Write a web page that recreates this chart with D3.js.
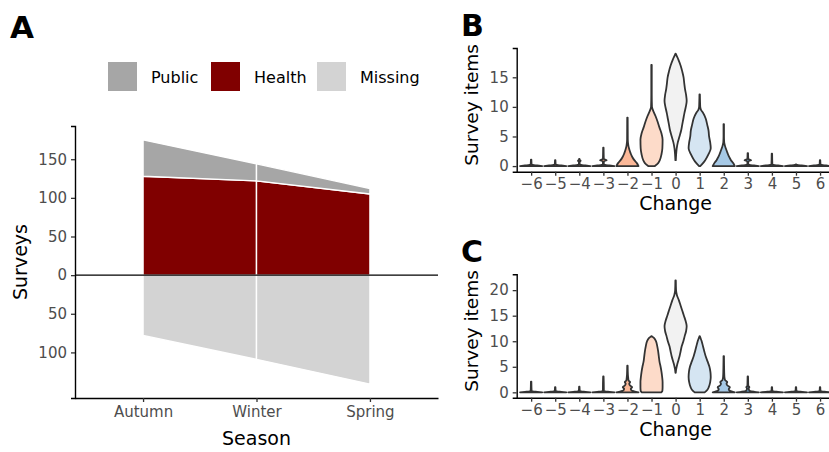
<!DOCTYPE html>
<html>
<head>
<meta charset="utf-8">
<script src="https://cdn.jsdelivr.net/npm/d3@7"></script>
<style>
  body { margin: 0; background: #fff; }
  text { font-family: "DejaVu Sans", sans-serif; }
</style>
</head>
<body>
<svg id="chart" width="829" height="452"></svg>
<script>
/* DATA */
// panel A: surveys per season
const seasons = ["Autumn", "Winter", "Spring"];
const healthSurveys = [128, 122, 105];
const publicSurveys = [47, 22, 7];
const missingSurveys = [78, 109, 141];
const legendLabels = ["Public", "Health", "Missing"];
const surveyTicks = [-100, -50, 0, 50, 100, 150];

// panels B and C: violins of change scores, [value, relative width]
const changes = [-6, -5, -4, -3, -2, -1, 0, 1, 2, 3, 4, 5, 6];
const itemTicksB = [0, 5, 10, 15];
const itemTicksC = [0, 5, 10, 15, 20];

const violinsB = [
  [[0,1],[0.1,0.55],[0.2,0.15],[0.35,0.04],[1.1,0.02]],
  [[0,1],[0.1,0.55],[0.2,0.15],[0.35,0.04],[1.0,0.02]],
  [[0,1],[0.1,0.55],[0.2,0.15],[0.35,0.04],[0.7,0.03],[0.9,0.12],[1.05,0.03],[1.2,0.02]],
  [[0,1],[0.1,0.55],[0.2,0.15],[0.35,0.04],[0.8,0.04],[1,0.3],[1.2,0.04],[3.1,0.02]],
  [[0,1],[0.5,0.85],[1,0.62],[1.5,0.45],[2,0.32],[2.5,0.22],[3,0.14],[3.5,0.08],[4.5,0.03],[8.2,0.02]],
  [[0,0.3],[0.5,0.6],[1,0.75],[2,0.9],[3,0.98],[4.5,1],[5.5,0.9],[6.5,0.72],[7.5,0.55],[8.5,0.35],[9.5,0.12],[10,0.04],[12,0.02],[17.1,0.02]],
  [[1,0.02],[2,0.05],[3,0.1],[4,0.2],[5,0.35],[6,0.5],[7,0.6],[8,0.7],[9,0.8],[10,0.92],[11,1],[12,0.95],[13,0.85],[14,0.78],[15,0.72],[16,0.6],[17,0.45],[18,0.25],[18.7,0.08],[19,0.01]],
  [[0,0.05],[0.5,0.3],[1,0.5],[2,0.8],[3,1],[4,0.95],[5,0.85],[6,0.8],[7,0.68],[8,0.55],[9,0.3],[9.5,0.12],[10,0.05],[12.1,0.02]],
  [[0,1],[0.5,0.85],[1,0.65],[1.5,0.5],[2,0.38],[2.5,0.28],[3,0.18],[3.5,0.1],[4,0.04],[5,0.02],[7.1,0.02]],
  [[0,1],[0.1,0.55],[0.2,0.15],[0.35,0.04],[0.8,0.04],[1,0.3],[1.2,0.04],[2.2,0.02]],
  [[0,1],[0.1,0.55],[0.2,0.15],[0.35,0.04],[2.1,0.02]],
  [[0,1],[0.1,0.5],[0.2,0.1],[0.3,0.02]],
  [[0,1],[0.1,0.55],[0.2,0.15],[0.35,0.04],[1.0,0.02]]
];

const violinsC = [
  [[0,1],[0.1,0.55],[0.2,0.15],[0.35,0.04],[2.1,0.02]],
  [[0,1],[0.1,0.55],[0.2,0.15],[0.35,0.04],[1.0,0.02]],
  [[0,1],[0.1,0.55],[0.2,0.15],[0.35,0.04],[1.1,0.02]],
  [[0,1],[0.1,0.55],[0.2,0.15],[0.35,0.04],[1,0.04],[3.1,0.02]],
  [[0,1],[0.2,0.6],[0.4,0.35],[0.7,0.3],[1,0.42],[1.3,0.25],[1.7,0.16],[2,0.24],[2.3,0.1],[3,0.06],[3.5,0.04],[5.2,0.02]],
  [[0,0.88],[0.3,0.98],[1,1],[2,1],[3,0.96],[4,0.9],[5,0.82],[6,0.72],[7,0.66],[8,0.6],[9,0.52],[10,0.4],[10.6,0.24],[11,0.02]],
  [[3.8,0.01],[4.5,0.05],[5.5,0.15],[7,0.35],[8,0.45],[9,0.55],[10,0.7],[11,0.82],[12,0.95],[13,1],[14,0.9],[15,0.75],[16,0.6],[17,0.45],[18,0.3],[19,0.12],[20,0.04],[21.9,0.02]],
  [[0,0.45],[0.5,0.7],[1,0.82],[2,0.95],[3,1],[4,0.97],[5,0.88],[6,0.72],[7,0.55],[8,0.42],[9,0.3],[10,0.18],[10.7,0.06],[11,0.01]],
  [[0,1],[0.3,0.55],[0.6,0.45],[1,0.55],[1.3,0.35],[1.7,0.25],[2,0.32],[2.4,0.12],[3,0.06],[4,0.04],[5,0.03],[7.1,0.02]],
  [[0,1],[0.1,0.6],[0.25,0.2],[0.5,0.1],[0.8,0.08],[1,0.14],[1.3,0.04],[2,0.03],[3.1,0.02]],
  [[0,1],[0.1,0.55],[0.2,0.15],[0.35,0.04],[1.0,0.02]],
  [[0,1],[0.1,0.55],[0.2,0.15],[0.35,0.04],[1.0,0.02]],
  [[0,1],[0.1,0.55],[0.2,0.15],[0.35,0.04],[1.0,0.02]]
];

/* STYLES */
const areaColours = { Public: "#a6a6a6", Health: "#800000", Missing: "#d3d3d3" };
const violinFills = ["#b2182b", "#d6604d", "#e8866a", "#f4a582", "#fbb898", "#fddbc9",
  "#f2f2f2", "#d5e5f2", "#a6c9e6", "#6aa6d1", "#4393c3", "#2166ac", "#2166ac"];
const tickGrey = "#4d4d4d";

const svg = d3.select("#chart");

function styleAxis(g) {
  g.select(".domain").attr("stroke", "#000").attr("stroke-width", 1.4);
  g.selectAll(".tick line").attr("stroke", "#333").attr("stroke-width", 1.3);
  g.selectAll(".tick text").attr("fill", tickGrey).attr("font-size", 15)
    .attr("font-family", "DejaVu Sans, sans-serif");
}

/* PANEL A */
const xA = d3.scalePoint().domain(seasons).range([75, 438]).padding(0.6);
const yA = d3.scaleLinear().domain([-159, 193]).range([398, 126]);

const rows = seasons.map((s, i) => ({
  season: s, health: healthSurveys[i], pub: publicSurveys[i], missing: missingSurveys[i]
}));

const layers = [
  { key: "Missing", y0: d => 0, y1: d => -d.missing },
  { key: "Health", y0: d => 0, y1: d => d.health },
  { key: "Public", y0: d => d.health, y1: d => d.health + d.pub }
];

const gA = svg.append("g");
// each season-to-season step drawn as its own piece, outlined in white
d3.pairs(rows).forEach(seg => {
  layers.forEach(l => {
    const area = d3.area()
      .x(d => xA(d.season))
      .y0(d => yA(l.y0(d)))
      .y1(d => yA(l.y1(d)));
    gA.append("path")
      .datum(seg)
      .attr("d", area)
      .attr("fill", areaColours[l.key])
      .attr("stroke", "#fff")
      .attr("stroke-width", 1.4);
  });
});

gA.append("line")
  .attr("x1", 75).attr("x2", 438)
  .attr("y1", yA(0)).attr("y2", yA(0))
  .attr("stroke", "#000").attr("stroke-width", 1.4);

gA.append("g")
  .attr("transform", "translate(75,0)")
  .call(d3.axisLeft(yA).tickValues(surveyTicks).tickFormat(d => Math.abs(d))
    .tickSize(4).tickPadding(4))
  .call(styleAxis);

gA.append("g")
  .attr("transform", "translate(0,398)")
  .call(d3.axisBottom(xA).tickSize(4).tickPadding(4).tickSizeOuter(0))
  .call(styleAxis);

gA.append("text")
  .attr("x", xA("Winter")).attr("y", 445)
  .attr("text-anchor", "middle").attr("font-size", 19)
  .text("Season");

gA.append("text")
  .attr("transform", "translate(27,262) rotate(-90)")
  .attr("text-anchor", "middle").attr("font-size", 19)
  .text("Surveys");

// legend
const legendX = [108, 211, 317];
legendLabels.forEach((lab, i) => {
  gA.append("rect")
    .attr("x", legendX[i]).attr("y", 62)
    .attr("width", 29).attr("height", 29)
    .attr("fill", areaColours[lab]);
  gA.append("text")
    .attr("x", legendX[i] + 43).attr("y", 77)
    .attr("dy", "0.35em").attr("font-size", 16)
    .text(lab);
});

svg.append("text").attr("x", 10).attr("y", 38)
  .attr("font-size", 31).attr("font-weight", "bold").text("A");

/* PANELS B AND C */
const xV = d3.scaleLinear().domain([-6.6, 6.6]).range([516.7, 834.5]);
const halfWidth = (xV(1) - xV(0)) * 0.46;

function drawViolins(opts) {
  const y = d3.scaleLinear().domain(opts.yDomain).range([opts.bottom, opts.top]);
  const g = svg.append("g");

  opts.profiles.forEach((prof, i) => {
    const cx = xV(changes[i]);
    const area = d3.area()
      .curve(d3.curveMonotoneY)
      .y(d => y(d[0]))
      .x0(d => cx - d[1] * halfWidth)
      .x1(d => cx + d[1] * halfWidth);
    g.append("path")
      .datum(prof)
      .attr("d", area)
      .attr("fill", violinFills[i])
      .attr("stroke", "#333")
      .attr("stroke-width", 1.8)
      .attr("stroke-linejoin", "round");
  });

  g.append("g")
    .attr("transform", `translate(${xV(-6.6)},0)`)
    .call(d3.axisLeft(y).tickValues(opts.ticks).tickSize(4).tickPadding(4))
    .call(styleAxis);

  g.append("g")
    .attr("transform", `translate(0,${opts.bottom})`)
    .call(d3.axisBottom(xV).tickValues(changes).tickFormat(d3.format("d"))
      .tickSize(4).tickPadding(3).tickSizeOuter(0))
    .call(styleAxis);

  g.append("text")
    .attr("x", xV(0)).attr("y", opts.bottom + 38)
    .attr("text-anchor", "middle").attr("font-size", 19)
    .text("Change");

  g.append("text")
    .attr("transform", `translate(478,${(opts.top + opts.bottom) / 2 - 5}) rotate(-90)`)
    .attr("text-anchor", "middle").attr("font-size", 18.5)
    .text("Survey items");

  svg.append("text").attr("x", 461).attr("y", opts.top - 12)
    .attr("font-size", 30).attr("font-weight", "bold").text(opts.label);
}

drawViolins({ label: "B", top: 48, bottom: 171.7, yDomain: [-0.95, 19.95],
  ticks: itemTicksB, profiles: violinsB });
drawViolins({ label: "C", top: 274.3, bottom: 397.7, yDomain: [-1.05, 23.1],
  ticks: itemTicksC, profiles: violinsC });
</script>
</body>
</html>
